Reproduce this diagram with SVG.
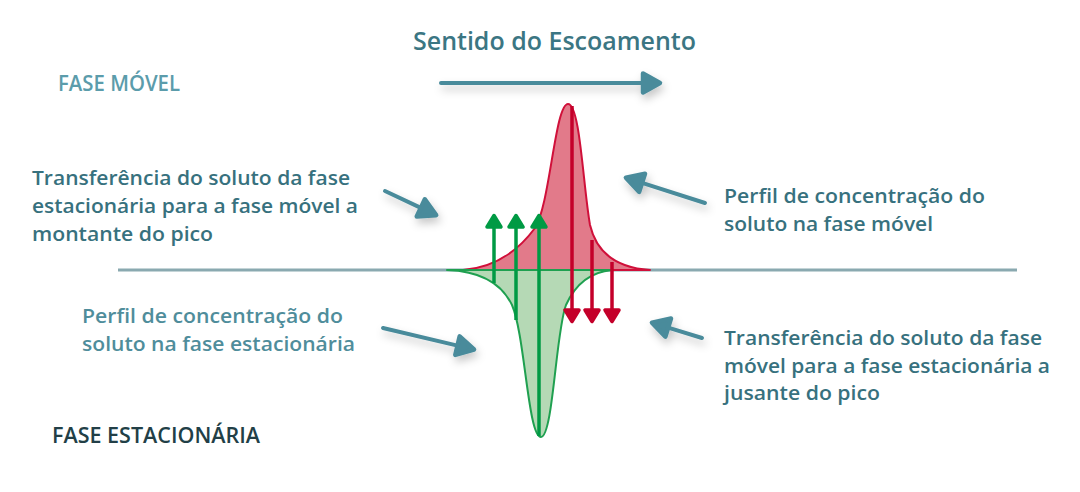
<svg xmlns="http://www.w3.org/2000/svg" width="1080" height="492" viewBox="0 0 1080 492">
  <style>
    text { font-family: "Open Sans", "Liberation Sans", sans-serif; font-weight: 600; }
    .lbl { font-size: 19.5px; fill: #37717e; }
    .lbl-light { font-size: 19.5px; fill: #4f8d9b; }
    .title { font-size: 26px; fill: #3b7683; }
    .phase-m { font-size: 21px; fill: #5b9cab; }
    .phase-s { font-size: 21px; fill: #223f47; }
    .pointer { stroke: #4a8b9b; stroke-width: 4; fill: none; stroke-linecap: round; }
    .garrow { stroke: #009a44; stroke-width: 3.5; fill: none; }
    .rarrow { stroke: #c4002a; stroke-width: 3.5; fill: none; }
    .axis { stroke: #8aa9b0; stroke-width: 3; }
  </style>
  <defs>
    <filter id="shadow" x="-30%" y="-60%" width="160%" height="220%">
      <feDropShadow dx="2" dy="5" stdDeviation="4" flood-color="#000" flood-opacity="0.22"/>
    </filter>
    <marker id="tealHead" markerUnits="userSpaceOnUse" viewBox="-4 -14 28 28" refX="0" refY="0" markerWidth="28" markerHeight="28" orient="auto">
      <path d="M0 -9.5 L17 0 L0 9.5 Z" fill="#4a8b9b" stroke="#4a8b9b" stroke-width="4.5" stroke-linejoin="round"/>
    </marker>
    <marker id="greenHead" markerUnits="userSpaceOnUse" viewBox="-4 -12 24 24" refX="0" refY="0" markerWidth="24" markerHeight="24" orient="auto">
      <path d="M0 -7 L11.5 0 L0 7 Z" fill="#009a44" stroke="#009a44" stroke-width="3.5" stroke-linejoin="round"/>
    </marker>
    <marker id="redHead" markerUnits="userSpaceOnUse" viewBox="-4 -12 24 24" refX="0" refY="0" markerWidth="24" markerHeight="24" orient="auto">
      <path d="M0 -7 L11.5 0 L0 7 Z" fill="#c4002a" stroke="#c4002a" stroke-width="3.5" stroke-linejoin="round"/>
    </marker>
  </defs>

  <rect width="1080" height="492" fill="#ffffff"/>

  <g id="axis">
    <line class="axis" x1="118" y1="270" x2="1017" y2="270"/>
  </g>

  <g id="mobile-profile">
    <path d="M463 270 C490 268 515 255 535 228 C550 205 555 104 568 104 C580 104 583 185 590 225 C597 255 620 268 650 270 Z" fill="#e27a8a" stroke="#d0103a" stroke-width="2" stroke-linejoin="round"/>
  </g>
  <g id="stationary-profile">
    <path d="M447 270 C475 271 500 280 512 305 C525 335 528 437 541 437 C553 437 556 330 566 305 C575 285 590 272 612 270 Z" fill="#b5d9b5" stroke="#1fa050" stroke-width="2" stroke-linejoin="round"/>
  </g>

  <g id="connectors">
    <g id="transfer-up">
      <line class="garrow" x1="494" y1="283" x2="494" y2="227" marker-end="url(#greenHead)"/>
      <line class="garrow" x1="516" y1="320" x2="516" y2="227" marker-end="url(#greenHead)"/>
      <line class="garrow" x1="539" y1="436" x2="539" y2="227" marker-end="url(#greenHead)"/>
    </g>
    <g id="transfer-down">
      <line class="rarrow" x1="572" y1="106" x2="572" y2="310" marker-end="url(#redHead)"/>
      <line class="rarrow" x1="592" y1="240" x2="592" y2="310" marker-end="url(#redHead)"/>
      <line class="rarrow" x1="612" y1="262" x2="612" y2="310" marker-end="url(#redHead)"/>
    </g>
    <g id="pointers" filter="url(#shadow)">
      <line class="pointer" x1="441" y1="83" x2="643" y2="83" marker-end="url(#tealHead)"/>
      <line class="pointer" x1="385" y1="191" x2="420.8" y2="207.9" marker-end="url(#tealHead)"/>
      <line class="pointer" x1="705" y1="203" x2="642.1" y2="182.8" marker-end="url(#tealHead)"/>
      <line class="pointer" x1="383" y1="328" x2="457.5" y2="345.6" marker-end="url(#tealHead)"/>
      <line class="pointer" x1="702" y1="338" x2="668.2" y2="327.6" marker-end="url(#tealHead)"/>
    </g>
  </g>

  <g id="title">
    <text class="title" x="413" y="50" textLength="283" lengthAdjust="spacingAndGlyphs">Sentido do Escoamento</text>
  </g>
  <g id="fase-movel">
    <text class="phase-m" x="58" y="91" textLength="122" lengthAdjust="spacingAndGlyphs">FASE MÓVEL</text>
  </g>
  <g id="fase-estacionaria">
    <text class="phase-s" x="52" y="443" textLength="208" lengthAdjust="spacingAndGlyphs">FASE ESTACIONÁRIA</text>
  </g>
  <g id="label-transfer-up">
    <text class="lbl" x="32" y="185" textLength="318" lengthAdjust="spacingAndGlyphs">Transferência do soluto da fase</text>
    <text class="lbl" x="32" y="213" textLength="326" lengthAdjust="spacingAndGlyphs">estacionária para a fase móvel a</text>
    <text class="lbl" x="32" y="241" textLength="181" lengthAdjust="spacingAndGlyphs">montante do pico</text>
  </g>
  <g id="label-mobile-profile">
    <text class="lbl" x="724" y="203" textLength="261" lengthAdjust="spacingAndGlyphs">Perfil de concentração do</text>
    <text class="lbl" x="724" y="231" textLength="209" lengthAdjust="spacingAndGlyphs">soluto na fase móvel</text>
  </g>
  <g id="label-stationary-profile">
    <text class="lbl-light" x="82" y="323" textLength="261" lengthAdjust="spacingAndGlyphs">Perfil de concentração do</text>
    <text class="lbl-light" x="82" y="351" textLength="273" lengthAdjust="spacingAndGlyphs">soluto na fase estacionária</text>
  </g>
  <g id="label-transfer-down">
    <text class="lbl" x="724" y="345" textLength="318" lengthAdjust="spacingAndGlyphs">Transferência do soluto da fase</text>
    <text class="lbl" x="724" y="373" textLength="326" lengthAdjust="spacingAndGlyphs">móvel para a fase estacionária a</text>
    <text class="lbl" x="724" y="400" textLength="156" lengthAdjust="spacingAndGlyphs">jusante do pico</text>
  </g>
</svg>
